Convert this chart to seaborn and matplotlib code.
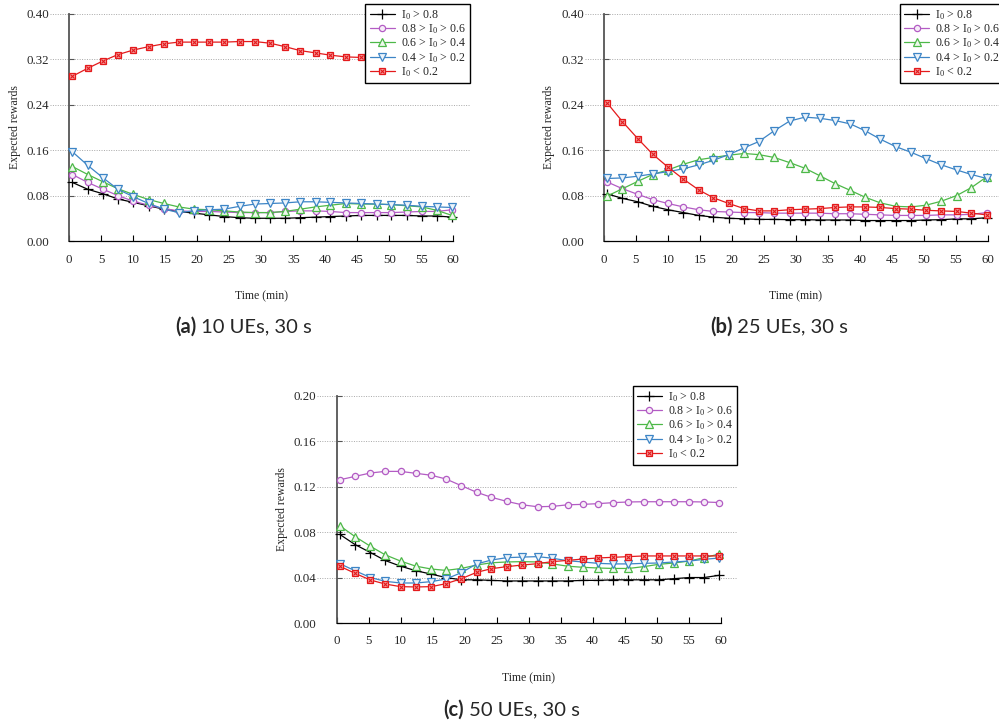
import numpy as np
import pandas as pd
import seaborn as sns
import matplotlib
matplotlib.use("Agg")
import matplotlib.pyplot as plt
from matplotlib.legend_handler import HandlerTuple

sns.set_theme(style="white")
plt.rcParams['font.family'] = ['Liberation Serif', 'DejaVu Serif']
plt.rcParams['mathtext.fontset'] = 'custom'
plt.rcParams['mathtext.rm'] = 'Liberation Serif'
plt.rcParams['mathtext.it'] = 'Liberation Serif:italic'

# ---------------- data ----------------
times = [0.5, 2.9, 5.3, 7.6, 10.0, 12.4, 14.8, 17.1, 19.5, 21.9, 24.2, 26.6, 29.0,
         31.4, 33.7, 36.1, 38.5, 40.8, 43.2, 45.6, 48.0, 50.3, 52.7, 55.1, 57.4, 59.8]

labels = [r'I$_0$ > 0.8', r'0.8 > I$_0$ > 0.6', r'0.6 > I$_0$ > 0.4',
          r'0.4 > I$_0$ > 0.2', r'I$_0$ < 0.2']

# (a) 10 UEs
a_s1 = [0.103, 0.091, 0.083, 0.074, 0.068, 0.062, 0.056, 0.052, 0.049, 0.046, 0.043, 0.041, 0.040,
        0.040, 0.040, 0.041, 0.042, 0.043, 0.044, 0.045, 0.045, 0.045, 0.045, 0.044, 0.044, 0.042]
a_s2 = [0.117, 0.103, 0.091, 0.080, 0.070, 0.063, 0.057, 0.053, 0.052, 0.052, 0.051, 0.050, 0.050,
        0.050, 0.052, 0.053, 0.053, 0.052, 0.050, 0.050, 0.050, 0.050, 0.051, 0.052, 0.052, 0.055]
a_s3 = [0.131, 0.117, 0.104, 0.092, 0.082, 0.073, 0.066, 0.060, 0.056, 0.055, 0.053, 0.051, 0.050,
        0.050, 0.052, 0.056, 0.060, 0.063, 0.066, 0.065, 0.065, 0.064, 0.062, 0.060, 0.054, 0.045]
a_s4 = [0.157, 0.133, 0.111, 0.091, 0.078, 0.066, 0.056, 0.050, 0.053, 0.055, 0.056, 0.061, 0.065,
        0.066, 0.067, 0.069, 0.069, 0.068, 0.067, 0.066, 0.065, 0.064, 0.063, 0.061, 0.060, 0.059]
a_s5 = [0.290, 0.304, 0.317, 0.328, 0.336, 0.342, 0.347, 0.350, 0.350, 0.350, 0.350, 0.351, 0.351,
        0.348, 0.342, 0.335, 0.331, 0.327, 0.324, 0.323, 0.322, 0.321, 0.321, 0.320, 0.320, 0.320]

# (b) 25 UEs
b_s1 = [0.083, 0.075, 0.069, 0.061, 0.055, 0.050, 0.045, 0.042, 0.040, 0.039, 0.038, 0.038, 0.0375,
        0.0375, 0.037, 0.037, 0.037, 0.036, 0.036, 0.036, 0.036, 0.037, 0.0375, 0.039, 0.039, 0.041]
b_s2 = [0.104, 0.092, 0.082, 0.073, 0.066, 0.060, 0.055, 0.052, 0.051, 0.050, 0.050, 0.049, 0.049,
        0.049, 0.049, 0.048, 0.048, 0.047, 0.046, 0.045, 0.045, 0.045, 0.046, 0.046, 0.047, 0.050]
b_s3 = [0.079, 0.092, 0.105, 0.117, 0.125, 0.135, 0.143, 0.147, 0.151, 0.154, 0.152, 0.147, 0.138,
        0.128, 0.115, 0.101, 0.089, 0.077, 0.067, 0.061, 0.060, 0.063, 0.070, 0.080, 0.094, 0.113]
b_s4 = [0.110, 0.111, 0.114, 0.118, 0.122, 0.127, 0.134, 0.142, 0.152, 0.164, 0.175, 0.194, 0.211,
        0.218, 0.216, 0.212, 0.206, 0.194, 0.179, 0.166, 0.156, 0.145, 0.134, 0.125, 0.117, 0.110]
b_s5 = [0.243, 0.210, 0.180, 0.153, 0.130, 0.109, 0.090, 0.076, 0.066, 0.057, 0.053, 0.053, 0.055,
        0.056, 0.057, 0.059, 0.060, 0.060, 0.059, 0.057, 0.056, 0.054, 0.053, 0.052, 0.049, 0.046]

# (c) 50 UEs
c_s1 = [0.078, 0.069, 0.062, 0.055, 0.050, 0.046, 0.043, 0.040, 0.038, 0.038, 0.0375, 0.037, 0.037,
        0.037, 0.037, 0.037, 0.0375, 0.0375, 0.038, 0.038, 0.038, 0.038, 0.039, 0.040, 0.040, 0.042]
c_s2 = [0.126, 0.129, 0.132, 0.1334, 0.1334, 0.1317, 0.130, 0.1267, 0.1208, 0.115, 0.1106, 0.107, 0.104,
        0.1023, 0.1026, 0.104, 0.1044, 0.105, 0.1059, 0.1065, 0.1067, 0.1067, 0.1067, 0.1067, 0.1065, 0.106]
c_s3 = [0.0856, 0.076, 0.0675, 0.060, 0.0545, 0.050, 0.0475, 0.0463, 0.048, 0.051, 0.053, 0.0537, 0.054,
        0.0537, 0.052, 0.050, 0.049, 0.0484, 0.048, 0.048, 0.0496, 0.0516, 0.0528, 0.0545, 0.0575, 0.0607]
c_s4 = [0.0522, 0.046, 0.040, 0.0367, 0.0352, 0.0352, 0.0364, 0.0387, 0.0443, 0.052, 0.0554, 0.0575, 0.058,
        0.0584, 0.057, 0.0548, 0.0537, 0.0525, 0.052, 0.052, 0.0525, 0.0528, 0.0537, 0.0545, 0.056, 0.0572]
c_s5 = [0.050, 0.0437, 0.0378, 0.0343, 0.032, 0.0317, 0.032, 0.0346, 0.039, 0.0446, 0.0478, 0.0496, 0.051,
        0.0522, 0.054, 0.0551, 0.0563, 0.0572, 0.0578, 0.0584, 0.059, 0.059, 0.059, 0.059, 0.059, 0.059]

panels = [
    dict(series=[a_s1, a_s2, a_s3, a_s4, a_s5], ymax=0.40, yticks=[0.00, 0.08, 0.16, 0.24, 0.32, 0.40],
         caption_b='(a)', caption_r=' 10 UEs, 30 s'),
    dict(series=[b_s1, b_s2, b_s3, b_s4, b_s5], ymax=0.40, yticks=[0.00, 0.08, 0.16, 0.24, 0.32, 0.40],
         caption_b='(b)', caption_r=' 25 UEs, 30 s'),
    dict(series=[c_s1, c_s2, c_s3, c_s4, c_s5], ymax=0.20, yticks=[0.00, 0.04, 0.08, 0.12, 0.16, 0.20],
         caption_b='(c)', caption_r=' 50 UEs, 30 s'),
]

# ---------------- style ----------------
colors = ['#000000', '#b35cc4', '#4db848', '#3d85c6', '#e41a1c']
fills = ['#000000', '#f6ecf8', '#eef8ed', '#ebf3fa', '#f6a5a5']
markers = ['+', 'o', '^', 'v', 's']
msizes = [6.5, 4.5, 5.2, 5.2, 4.6]

W, H = 999, 725
fig = plt.figure(figsize=(W / 100, H / 100), dpi=100)

XMIN, XMAX = -3.0, 62.6
# axes boxes in pixels: (left, top, width, height)
boxes = [(50, 13.7, 420, 227.3), (584.7, 13.7, 420, 227.3), (317.3, 395.7, 420, 227.3)]
captions_pos = [(175, 327), (710, 327), (443, 710)]

for p, box, cpos in zip(panels, boxes, captions_pos):
    l, t, w, h = box
    ax = fig.add_axes([l / W, 1 - (t + h) / H, w / W, h / H])
    handles = []
    for vals, c, f, m, ms, lab in zip(p['series'], colors, fills, markers, msizes, labels):
        sns.lineplot(x=times, y=vals, ax=ax, color=c, marker=m, markersize=ms,
                     markerfacecolor=f, markeredgecolor=c, markeredgewidth=0.9,
                     linewidth=0.9, legend=False, zorder=3)
        line = ax.get_lines()[-1]
        if m == 's':
            ax.plot(times, vals, linestyle='none', marker='x', markersize=3.2,
                    color=c, markeredgewidth=0.8, zorder=4)
            xl = ax.get_lines()[-1]
            handles.append((line, xl))
        else:
            handles.append(line)

    ax.set_xlim(XMIN, XMAX)
    ax.set_ylim(0, p['ymax'])
    ax.set_xticks(list(range(0, 61, 5)))
    ax.set_yticks(p['yticks'])
    ax.set_yticklabels([f'{v:.2f}' for v in p['yticks']])
    ax.yaxis.grid(True, linestyle=(0, (1, 1.5)), color='#a8a8a8', linewidth=0.7)
    ax.xaxis.grid(False)
    ax.set_axisbelow(True)

    for s in ['top', 'right']:
        ax.spines[s].set_visible(False)
    ax.spines['left'].set_position(('data', 0))
    ax.spines['left'].set_color('#555555')
    ax.spines['left'].set_linewidth(1.3)
    ax.spines['bottom'].set_bounds(0, 60)
    ax.spines['bottom'].set_color('#000000')
    ax.spines['bottom'].set_linewidth(0.9)

    ax.tick_params(axis='x', direction='in', length=4.5, width=0.8, color='#000000',
                   pad=9, labelsize=9.3, bottom=True)
    ax.tick_params(axis='y', direction='in', length=3.5, width=0.8, color='#555555',
                   pad=14.5, labelsize=9.3, left=True)

    ax.set_xlabel('Time (min)', fontsize=8.5)
    ax.set_ylabel('Expected rewards', fontsize=8.5)
    ax.xaxis.set_label_coords((30 - XMIN) / (XMAX - XMIN), -0.215)
    ax.yaxis.set_label_coords(-0.07, 0.5)

    leg = ax.legend(handles, labels, loc='upper right', bbox_to_anchor=(1.0, 1.043),
                    fontsize=8.6, frameon=True, fancybox=False, framealpha=1,
                    edgecolor='#000000', borderpad=0.35, labelspacing=0.04,
                    handlelength=2.1, handletextpad=0.5, borderaxespad=0,
                    handler_map={tuple: HandlerTuple(ndivide=1)})
    leg.get_frame().set_linewidth(1.0)
    leg.set_zorder(10)

    # caption
    cx, cy = cpos
    tb = fig.text(cx / W, 1 - cy / H, p['caption_b'], fontsize=14.5, fontweight='bold',
                  family=['Lato', 'DejaVu Sans'], ha='left', va='center')
    fig.canvas.draw()
    bb = tb.get_window_extent()
    fig.text(bb.x1 / W, 1 - cy / H, p['caption_r'], fontsize=14.5,
             family=['Lato', 'DejaVu Sans'], ha='left', va='center')

fig.savefig('out.png', dpi=100)
